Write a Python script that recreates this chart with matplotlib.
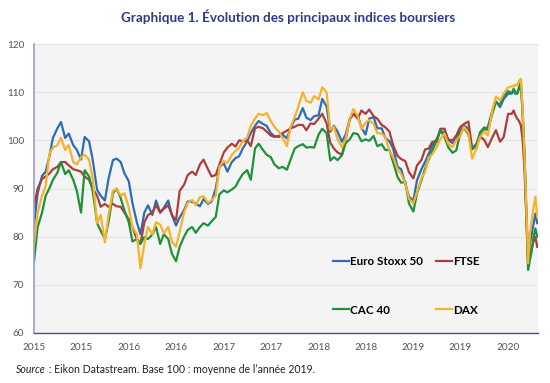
import pandas as pd
import matplotlib
matplotlib.use("Agg")
import matplotlib.pyplot as plt
import matplotlib.dates as mdates

plt.rcParams['font.family'] = ['Lato', 'DejaVu Sans']

# dates: semi-monthly until mid-January 2020, weekly afterwards
dates = list(pd.date_range('2015-01-01', '2020-01-15', freq='SMS')) + \
    list(pd.date_range('2020-01-22', '2020-04-22', freq='7D'))

euro_stoxx = [82.4, 89, 92.6, 93.5, 96.6, 100.5, 102.5, 103.8, 100.5, 101.4, 99, 98, 96, 100.7, 99.8, 96,
              89.7, 88.5, 87.5, 92, 95.9, 96.2, 95.5, 93.2, 91.5, 87, 83, 80.5, 85, 86.5, 84.5, 87.5,
              85, 86, 87.5, 84.5, 82.3, 84, 85.5, 87.3, 87.2, 86.9, 86.3, 87.8, 86.8, 87.3, 90, 94.5,
              95.2, 93.5, 95.5, 96.3, 96.7, 98.3, 99.8, 101.5, 103, 104, 103.4, 103, 101.5, 100.9, 100.7,
              101.2, 100.4, 102.5, 104.3, 104.5, 106.7, 104.7, 104.2, 105, 105.2, 108.6, 107, 101.8, 103,
              101.8, 99.7, 101.2, 104.3, 105.5, 105.2, 102.6, 101.2, 104.5, 104.8, 102.5, 102.5, 100.5,
              99.8, 98.3, 94.5,
              94, 90.9, 88.3, 87.5, 91.7, 94, 95.5, 97.2, 99, 100.3, 101.9, 101.7, 100.1, 99.4, 100.3,
              101.9, 103.1, 102.4, 98.3, 99.3, 101.2, 102.1, 102.8, 106.2, 108.1, 106.9, 108.6, 109.7, 109.7,
              110.2, 109.7, 109.7, 110.7, 111.6, 106.2, 97.2, 85.5, 75.2, 78.6, 80.7, 82.8, 84.8, 82.8]

ftse = [86.2, 90, 92, 92.5, 93.1, 94, 94.5, 95.5, 95.5, 94.8, 94, 93.8, 93.5, 92.5, 91.8, 90,
        88.5, 86.2, 86.8, 86.2, 86.8, 86.3, 86.2, 85, 83.6, 82, 79.5, 78.5, 83, 84.5, 85, 86.5,
        85, 85.8, 86.5, 84.5, 83.4, 89.5, 90.8, 92.8, 93.5, 92.8, 95, 96, 94, 92.5, 92.8, 95,
        97.5, 98.5, 99.3, 98.7, 100, 99.8, 100, 98.8, 102.5, 102.8, 102.5, 101.8, 101, 100.7, 100.9,
        101.5, 102, 102.5, 102.8, 103.2, 103.2, 102.1, 103.5, 103.4, 104.5, 105.5, 103.5, 99.5, 98.3,
        97.5, 97, 100, 104.5, 105.5, 104.5, 106.2, 105.5, 106.4, 105, 104.5, 103.2, 102.7, 101.8, 99, 96.8,
        96.1, 95.7, 93.4, 92.1, 94.8, 95.9, 98.1, 98.3, 99.7, 99.7, 102.4, 102.4, 100.2, 100, 101,
        102.8, 103.4, 103.9, 98.5, 98.6, 100.8, 100.1, 98.6, 100.6, 102.1, 99.7, 100.7, 105.5, 105.5,
        106.2, 105.2, 104.5, 104, 103.1, 100, 93.8, 84.1, 73.8, 75.9, 77.6, 79, 80, 77.9]

cac40 = [74.8, 82, 85, 88.5, 90, 91.8, 93.3, 95.5, 93, 93.8, 91.8, 89.5, 85, 93.8, 92.5, 89.5,
         82.8, 81.2, 79.5, 83, 89, 90, 88, 85.5, 83, 79, 79.5, 78.5, 79.9, 79.5, 80.5, 82,
         78.5, 80.5, 79.5, 76.5, 74.9, 77.9, 80, 81.4, 82, 80.8, 82, 82.8, 82.3, 83.2, 84.1, 88.8,
         89.6, 89.2, 89.8, 90.4, 91.8, 93, 93.8, 91.8, 98.3, 99.3, 98, 97, 96.5, 95, 94.2,
         94.5, 93.9, 96, 98.3, 98.8, 99.2, 98.5, 98.6, 98.5, 101.2, 102.4, 101.5, 95.8, 96.5,
         95.9, 96.9, 99.4, 100.2, 101.5, 101.3, 99.8, 100.2, 99.9, 100.9, 98.8, 99.2, 98, 98, 95.5, 92.4,
         91.2, 91.4, 86.9, 85.2, 89, 91.7, 94.1, 96, 97.9, 100, 102.1, 100.7, 98.6, 97.4, 97.9,
         101.5, 102.6, 101.2, 98.1, 99, 101.7, 102.7, 102.1, 105.5, 107.9, 107.4, 109.3, 110.2, 109.8,
         110.7, 110, 109.7, 111, 112.1, 104.8, 96.6, 84.8, 73.1, 75.2, 77.2, 80, 81.7, 80]

dax = [78.3, 85, 88.5, 90.5, 97.2, 98.5, 99, 100.5, 98, 99, 95.5, 95, 96.5, 97, 96, 92,
       82.8, 84.5, 78.8, 84.5, 89.5, 90, 88.5, 89, 86, 82, 80.5, 73.4, 78.5, 82, 80.5, 83,
       82.5, 80.7, 82, 79, 77.9, 81, 85, 87, 87.6, 86.5, 88.2, 88.4, 87, 87.6, 88.5, 94.5,
       95.7, 95.3, 97, 97.8, 98.5, 99.8, 100.6, 103, 104.5, 105.5, 105.2, 105.7, 104, 102.8, 101.8,
       100.5, 98.8, 102.8, 104.8, 107, 110, 108.2, 107.8, 109.2, 108.5, 111, 110, 102.2, 102.8,
       100.2, 98.6, 100.2, 104.5, 106.5, 105, 102.3, 103.7, 104.2, 103.4, 101.5, 101.4, 100.7, 97.8, 96.5, 94,
       93, 91, 87.9, 86.9, 89.3, 92.1, 93.4, 96.4, 97.1, 98.6, 100.3, 101.4, 99.3, 98.6, 100,
       101, 102.8, 101.5, 96.2, 98.3, 100.7, 101.9, 101, 106.2, 109.1, 108.3, 109.7, 111, 111.2,
       111.2, 111.6, 111.4, 112.3, 112.8, 106.2, 96.6, 86.2, 74.5, 80.7, 83.4, 86.2, 88.3, 84.1]

fig = plt.figure(figsize=(5.5, 3.83), dpi=100)
ax = fig.add_axes([34 / 550, 1 - 333 / 383, 504 / 550, 289 / 383])
ax.set_facecolor('#f4f4f4')

lw = 1.6
l1, = ax.plot(dates, euro_stoxx, color='#2d6db4', lw=lw, label='Euro Stoxx 50')
l2, = ax.plot(dates, ftse, color='#ad3d3b', lw=lw, label='FTSE')
l3, = ax.plot(dates, cac40, color='#1c9338', lw=lw, label='CAC 40')
l4, = ax.plot(dates, dax, color='#f8b12a', lw=lw, label='DAX')

ax.set_ylim(60, 120)
ax.set_yticks(range(60, 121, 10))
ax.set_xlim(pd.Timestamp('2015-01-01'), pd.Timestamp('2020-04-25'))
ax.xaxis.set_major_locator(mdates.MonthLocator(bymonth=[1, 7]))
ax.xaxis.set_major_formatter(mdates.DateFormatter('%Y'))

ax.grid(axis='y', color='#e3e3e3', lw=0.8)
ax.set_axisbelow(True)
for s in ['top', 'right']:
    ax.spines[s].set_visible(False)
ax.spines['left'].set_color('#9d9dd0')
ax.spines['left'].set_linewidth(1.2)
ax.spines['bottom'].set_color('#4f4f8c')
ax.spines['bottom'].set_linewidth(1)
ax.tick_params(length=0, labelsize=7.2, labelcolor='#555555')
ax.tick_params(axis='y', pad=7)
ax.tick_params(axis='x', pad=7)

# legend: two rows, two columns, inside the plot
leg = ax.legend([l1, l3, l2, l4], ['Euro Stoxx 50', 'CAC 40', 'FTSE', 'DAX'], ncol=2,
                loc='center', bbox_to_anchor=(0.739, 0.164), frameon=False,
                handlelength=1.4, handletextpad=0.1, columnspacing=1.1,
                labelspacing=3.25, borderpad=0, prop={'weight': 'bold', 'size': 8.4})

fig.text(288 / 550, 1 - 17 / 383, 'Graphique 1. Évolution des principaux indices boursiers',
         ha='center', va='center', color='#2b3a8c', fontsize=9.7, fontweight='bold')

t1 = fig.text(16 / 550, 1 - 375 / 383, 'Source', fontsize=7.6, style='italic', va='bottom', color='#222222')
plt.annotate(" : Eikon Datastream. Base 100 : moyenne de l\u2019année 2019.", xy=(1, 0),
             xycoords=t1, va='bottom', fontsize=7.6, color='#222222', annotation_clip=False)

fig.savefig('out.png', dpi=100)
